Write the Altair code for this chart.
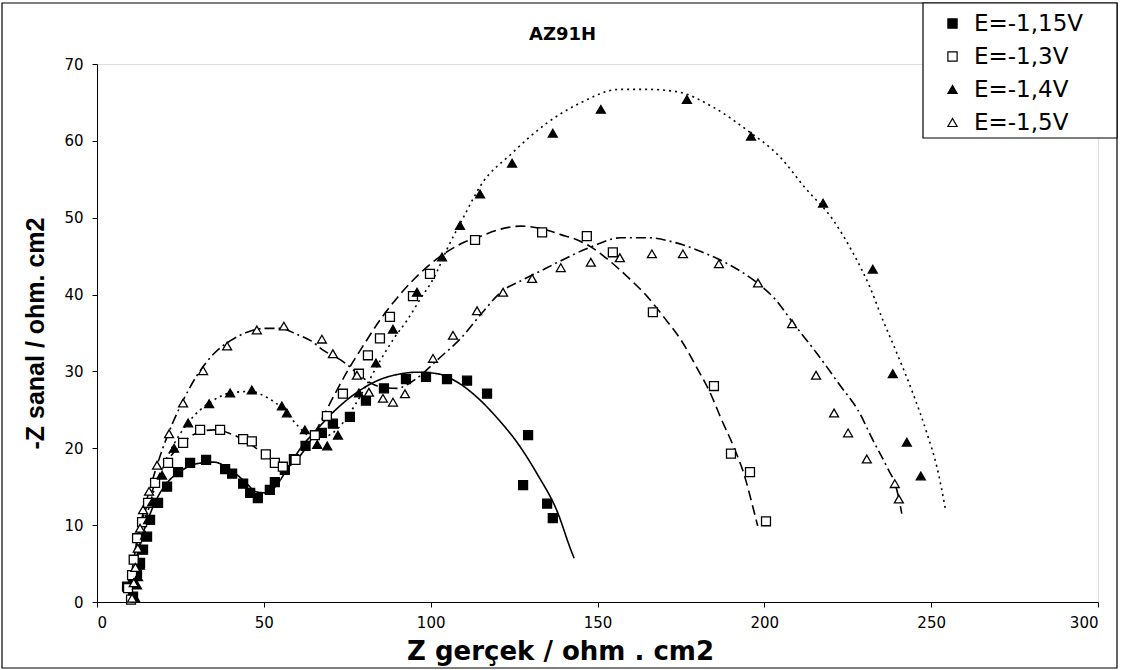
import altair as alt
import pandas as pd

series_names = ["E=-1,15V", "E=-1,3V", "E=-1,4V", "E=-1,5V"]

# measured points (Z real, -Z imaginary)
p115_x = [10.8, 9.0, 10.8, 12.0, 12.9, 13.8, 15.0, 15.9, 18.3, 21.0, 24.3, 27.9, 32.7, 38.4, 40.5, 43.8, 45.9, 48.2, 51.8, 53.3, 56.3, 59.0, 62.5, 67.4, 70.7, 75.8, 80.6, 86.0, 92.6, 98.6, 104.9, 110.9, 116.9, 129.2, 127.7, 134.9, 136.6]
p115_y = [0.7, 2.0, 2.9, 3.8, 5.1, 6.8, 8.5, 10.7, 12.9, 15.0, 16.9, 18.1, 18.5, 17.3, 16.7, 15.4, 14.2, 13.5, 14.6, 15.6, 17.2, 18.6, 20.3, 22.0, 23.2, 24.1, 26.2, 27.8, 29.0, 29.3, 29.0, 28.8, 27.1, 21.7, 15.2, 12.8, 10.9]

p13_x = [10.2, 9.3, 10.5, 11.0, 12.0, 13.5, 15.3, 17.4, 21.3, 25.8, 30.9, 36.9, 43.8, 46.4, 50.6, 53.3, 55.7, 59.5, 65.3, 68.9, 73.7, 78.5, 81.2, 84.8, 87.8, 94.7, 99.8, 113.3, 133.4, 146.8, 154.6, 166.6, 184.9, 190.0, 195.7, 200.5]
p13_y = [0.3, 1.8, 3.5, 5.5, 8.3, 10.4, 12.9, 15.5, 18.1, 20.7, 22.4, 22.4, 21.2, 20.9, 19.2, 18.1, 17.6, 18.5, 21.7, 24.2, 27.1, 29.7, 32.1, 34.3, 37.1, 39.8, 42.7, 47.1, 48.1, 47.6, 45.5, 37.7, 28.1, 19.3, 16.9, 10.5]

p14_x = [11.5, 12.0, 12.3, 12.9, 13.5, 14.4, 15.3, 16.5, 19.5, 23.1, 27.3, 33.6, 39.9, 46.4, 55.4, 56.9, 62.3, 66.0, 69.0, 72.2, 78.5, 83.6, 88.7, 95.9, 103.4, 108.8, 114.8, 124.4, 136.6, 151.0, 176.8, 196.0, 217.6, 232.5, 238.5, 242.7, 246.9]
p14_y = [0.5, 2.2, 3.3, 4.8, 6.8, 8.7, 10.7, 13.0, 16.5, 20.0, 23.3, 25.8, 27.2, 27.6, 25.5, 24.6, 22.4, 20.5, 20.3, 21.7, 27.2, 31.1, 35.5, 40.3, 44.9, 49.0, 53.1, 57.1, 61.0, 64.1, 65.4, 60.6, 51.9, 43.3, 29.7, 20.8, 16.4]

p15_x = [10.5, 11.0, 11.5, 12.2, 12.9, 13.8, 15.6, 18.0, 21.6, 25.8, 31.8, 39.0, 47.9, 56.0, 67.4, 70.7, 77.9, 81.5, 85.7, 88.7, 92.3, 100.7, 106.7, 113.9, 121.7, 130.4, 139.0, 148.0, 156.7, 166.3, 175.6, 186.4, 198.1, 208.3, 215.5, 220.9, 225.1, 230.7, 239.1, 240.3]
p15_y = [0.5, 2.5, 4.5, 7.0, 9.6, 12.0, 14.4, 17.8, 21.9, 25.9, 30.1, 33.3, 35.4, 35.9, 34.2, 32.3, 29.5, 27.3, 26.5, 26.0, 27.1, 31.7, 34.7, 37.9, 40.3, 42.1, 43.5, 44.2, 44.8, 45.3, 45.3, 44.0, 41.5, 36.2, 29.5, 24.6, 22.0, 18.6, 15.4, 13.4]

# fitted curves
f115_x = [9.5, 10.5, 12, 13.5, 15.5, 18, 21, 25, 30, 35, 40, 44, 48, 51, 54, 57, 61, 66, 72, 78, 84, 90, 96, 102, 108, 114, 120, 126, 132, 138, 142, 143]
f115_y = [0.5, 3, 6, 8.5, 11, 13.5, 15.5, 17, 18, 18.2, 17.2, 15.8, 14.3, 14.2, 15.3, 17.3, 20, 22.5, 25.2, 27.3, 28.8, 29.6, 29.9, 29.7, 28.6, 26.6, 23.9, 20.7, 16.6, 11.7, 6.8, 5.7]

f13_x = [9.5, 10.5, 12, 13.5, 15.5, 18, 21, 25, 30, 35, 40, 45, 50, 54, 57, 60, 63, 66, 70, 75, 80, 85, 90, 95, 100, 105, 110, 115, 120, 127, 133, 139, 144, 148, 153, 159, 165, 170, 175, 180, 184, 187, 191, 194, 196.6, 198]
f13_y = [0.5, 4, 8, 10.5, 13.2, 16, 18.3, 20.4, 22, 22.4, 21.9, 20.8, 19.3, 18.1, 17.6, 18.6, 20.3, 22.6, 26, 30, 33.5, 36.8, 39.6, 42, 44, 45.6, 46.8, 47.6, 48.4, 48.9, 48.6, 47.8, 47.1, 46.2, 44.6, 42.3, 39.7, 37.0, 34.1, 30.3, 27.0, 23.9, 20.0, 16.5, 12.3, 9.9]

f14_x = [10, 11, 12.5, 14, 16, 19, 23, 28, 34, 40, 46, 51, 56, 60, 64, 68, 72, 77, 81, 85, 89, 93, 97, 101, 105, 110, 115, 124.4, 134.8, 144.7, 156.7, 164.8, 173.8, 184.6, 194.8, 204.7, 212, 220.6, 226.6, 231.6, 235.5, 239.7, 244.5, 248.7, 251.7, 254.4]
f14_y = [0.5, 3.5, 6.5, 9.5, 13, 16.8, 20.5, 23.7, 26, 27.2, 27.4, 26.6, 25, 23, 21.6, 21.5, 22.5, 25.4, 28.4, 31.5, 34.3, 36.7, 39.5, 42.2, 46, 50.2, 54.2, 58.4, 62.3, 64.9, 66.7, 66.7, 66.4, 64.4, 61.4, 57.9, 54, 49.7, 45.4, 41.0, 36.7, 32.4, 27.2, 22.0, 17.6, 11.8]

f15_x = [9.5, 10.5, 12, 13.5, 15.5, 18, 21, 25, 30, 35, 40, 45, 50, 55, 60, 64, 68, 73, 78, 82, 86, 90, 93, 97, 102, 109, 115, 121, 128, 134, 139, 148, 157, 165, 173, 181, 189, 197, 203, 209, 216, 223, 228, 232.5, 236.7, 239.7, 241.2]
f15_y = [0.5, 4, 8, 11, 14.2, 17.8, 21.5, 25.5, 29.5, 32.3, 34, 35.1, 35.6, 35.6, 34.8, 34.0, 32.7, 31.5, 29.8, 28.5, 27.9, 27.8, 28.3, 29.5, 31.5, 34.3, 37.4, 40.3, 42.0, 43.3, 44.4, 46.2, 47.4, 47.4, 46.8, 45.6, 44.0, 41.8, 39.5, 36.1, 32.2, 28.0, 25.0, 21.1, 17.6, 14.6, 11.5]

line_dashes = [[1, 0], [10, 5], [2, 4], [10, 4, 2, 4]]

pts = []
for name, xs, ys in zip(series_names, [p115_x, p13_x, p14_x, p15_x], [p115_y, p13_y, p14_y, p15_y]):
    for a, b in zip(xs, ys):
        pts.append({"x": a, "y": b, "series": name})
points_df = pd.DataFrame(pts)

xscale = alt.Scale(domain=[0, 300], nice=False, zero=False)
yscale = alt.Scale(domain=[0, 70], nice=False, zero=False)

xaxis = alt.Axis(title="Z gerçek / ohm . cm2", values=[0, 50, 100, 150, 200, 250, 300],
                 grid=False, titleFont="DejaVu Sans", titleFontSize=26, titleFontWeight="bold",
                 titleX=463, titleY=57, titleAlign="center", titleBaseline="alphabetic",
                 labelFont="DejaVu Sans", labelFontSize=15, labelPadding=8,
                 tickSize=5, domainColor="black", tickColor="black", labelColor="black", titleColor="black")
yaxis = alt.Axis(title="-Z sanal / ohm. cm2", values=[0, 10, 20, 30, 40, 50, 60, 70],
                 grid=False, titleFont="Liberation Sans", titleFontSize=25, titleFontWeight="bold",
                 titlePadding=15, labelFont="DejaVu Sans", labelFontSize=15, labelPadding=9,
                 tickSize=5, domainColor="black", tickColor="black", labelColor="black", titleColor="black")

# outer chart frame and legend box (decoration)
frame = alt.Chart(pd.DataFrame({"k": [0]})).mark_rect(fill="transparent", stroke="black", strokeWidth=1.2).encode(
    x=alt.value(-95), x2=alt.value(1020), y=alt.value(-61), y2=alt.value(604)
)
legend_box = alt.Chart(pd.DataFrame({"k": [0]})).mark_rect(fill="white", stroke="black", strokeWidth=1.2).encode(
    x=alt.value(826), x2=alt.value(1020), y=alt.value(-61), y2=alt.value(74)
)

layers = [frame, legend_box]
for name, xs, ys, dash in zip(series_names, [f115_x, f13_x, f14_x, f15_x], [f115_y, f13_y, f14_y, f15_y], line_dashes):
    df = pd.DataFrame({"x": xs, "y": ys, "order": list(range(len(xs)))})
    layers.append(
        alt.Chart(df).mark_line(color="black", strokeWidth=1.6, strokeDash=dash, interpolate="monotone").encode(
            x=alt.X("x:Q", scale=xscale, axis=xaxis),
            y=alt.Y("y:Q", scale=yscale, axis=yaxis),
            order="order:Q",
        )
    )

legend = alt.Legend(title=None, orient="none", legendX=826, legendY=-60, padding=8,
                    labelFont="DejaVu Sans", labelFontSize=23, labelColor="black",
                    symbolSize=85, symbolStrokeColor="black", symbolStrokeWidth=1.2,
                    rowPadding=9, symbolOffset=10, labelOffset=10)

points = alt.Chart(points_df).mark_point(filled=True, strokeWidth=1.3, size=80, opacity=1).encode(
    x=alt.X("x:Q", scale=xscale, axis=xaxis),
    y=alt.Y("y:Q", scale=yscale, axis=yaxis),
    shape=alt.Shape("series:N", scale=alt.Scale(domain=series_names,
                    range=["square", "square", "triangle-up", "triangle-up"]), legend=legend),
    fill=alt.Fill("series:N", scale=alt.Scale(domain=series_names,
                  range=["black", "white", "black", "white"]), legend=legend),
    stroke=alt.Stroke("series:N", scale=alt.Scale(domain=series_names,
                      range=["black", "black", "black", "black"]), legend=legend),
)
layers.append(points)

chart = alt.layer(*layers).properties(
    width=1001, height=538,
    title=alt.TitleParams("AZ91H", font="DejaVu Sans", fontSize=18, fontWeight="bold",
                          color="black", anchor="middle", dx=-35, dy=55, offset=13),
    autosize=alt.AutoSizeParams(type="none"),
    padding={"left": 97, "top": 64, "right": 28, "bottom": 68},
).configure_view(stroke=None).configure(background="white")

chart.save("out.html", embed_options={"renderer": "svg", "actions": False})
